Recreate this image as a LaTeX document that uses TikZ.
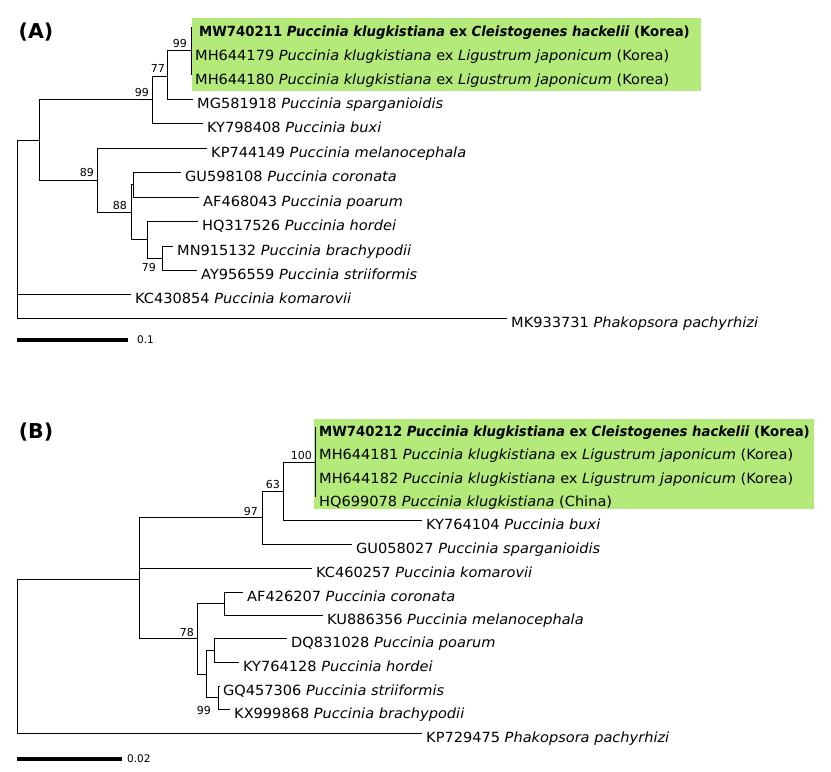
\documentclass[tikz,border=0pt]{standalone}
\usepackage{fontspec}
\setmainfont{DejaVu Sans}
\newfontfamily\leaffont{DejaVu Sans}[FakeStretch=1.04]
\newfontfamily\leafboldfont{DejaVu Sans}[FakeStretch=0.946]
\definecolor{clade}{RGB}{180,234,122}
\tikzset{
  br/.style={line width=0.9pt, black},
  leaf/.style={anchor=base west, inner sep=0pt, font=\leaffont\fontsize{14}{16}\selectfont},
  boot/.style={anchor=base east, inner sep=0pt, font=\fontsize{11}{13}\selectfont},
  panel/.style={inner sep=0pt, font=\fontsize{20.5}{24}\selectfont\bfseries},
  scalebar/.style={line width=4pt, black},
  scalelab/.style={anchor=west, inner sep=0pt, font=\fontsize{10.5}{12}\selectfont},
  cladebox/.style={fill=clade, draw=none}
}
\newcommand\tipleaf[5]{\coordinate (#1) at (#2,#3); \node[leaf] (#1t) at ([shift={(#4,9)}]#1) {#5};}
\newcommand\boldleaf[1]{{\leafboldfont\bfseries #1}}
\begin{document}
\begin{tikzpicture}[x=1pt,y=-1pt]
\useasboundingbox (0,0) rectangle (831,772);
\fill[cladebox] (192,18) rectangle (701,91);
\fill[cladebox] (314,419) rectangle (814,509);
\node[panel] (pA) at (36,32) {(A)};
\node[panel] (pB) at (36,432) {(B)};
% ---------- Tree A ----------
\coordinate (rA) at (17,140);
\coordinate (a39) at (39,140);
\coordinate (a99) at (152,99);
\coordinate (a77) at (167,76);
\coordinate (a99b) at (191,50);
\coordinate (a89) at (97,180);
\coordinate (a88) at (131,212);
\coordinate (a133) at (133,184);
\coordinate (a147) at (147,239);
\coordinate (a79) at (162,258);
\tipleaf{lMW1}{191}{27}{8}{\boldleaf{MW740211 \textit{Puccinia klugkistiana} ex \textit{Cleistogenes hackelii} (Korea)}}
\tipleaf{lMH79}{191}{51}{4}{MH644179 \textit{Puccinia klugkistiana} ex \textit{Ligustrum japonicum} (Korea)}
\tipleaf{lMH80}{191}{75}{4}{MH644180 \textit{Puccinia klugkistiana} ex \textit{Ligustrum japonicum} (Korea)}
\tipleaf{lMG}{193}{99}{4}{MG581918 \textit{Puccinia sparganioidis}}
\tipleaf{lKYa}{203}{123}{4}{KY798408 \textit{Puccinia buxi}}
\tipleaf{lKP}{207}{148}{4}{KP744149 \textit{Puccinia melanocephala}}
\tipleaf{lGU}{181}{172}{4}{GU598108 \textit{Puccinia coronata}}
\tipleaf{lAF}{199}{197}{4}{AF468043 \textit{Puccinia poarum}}
\tipleaf{lHQ}{198}{221}{4}{HQ317526 \textit{Puccinia hordei}}
\tipleaf{lMN}{173}{246}{4}{MN915132 \textit{Puccinia brachypodii}}
\tipleaf{lAY}{197}{270}{4}{AY956559 \textit{Puccinia striiformis}}
\tipleaf{lKCa}{131}{294}{4}{KC430854 \textit{Puccinia komarovii}}
\tipleaf{lMK}{507}{318}{4}{MK933731 \textit{Phakopsora pachyrhizi}}
\draw[br] (rA) |- (a39) (rA) |- (lKCa) (rA) |- (lMK);
\draw[br] (a39) |- (a99) (a39) |- (a89);
\draw[br] (a99) |- (a77) (a99) |- (lKYa);
\draw[br] (a77) |- (a99b) (a77) |- (lMG);
\draw[br] (a99b) |- (lMW1) (a99b) |- (lMH79) (a99b) |- (lMH80);
\draw[br] (a89) |- (lKP) (a89) |- (a88);
\draw[br] (a88) |- (a133) (a88) |- (a147);
\draw[br] (a133) |- (lGU) (a133) |- (lAF);
\draw[br] (a147) |- (lHQ) (a147) |- (a79);
\draw[br] (a79) |- (lMN) (a79) |- (lAY);
\node[boot] (bA1) at ([shift={(-3,-3)}]a99) {99};
\node[boot] (bA2) at ([shift={(-2,-4)}]a77) {77};
\node[boot] (bA3) at ([shift={(-4,-3)}]a99b) {99};
\node[boot] (bA4) at ([shift={(-3,-4)}]a89) {89};
\node[boot] (bA5) at ([shift={(-4,-3)}]a88) {88};
\node[boot] (bA6) at ([shift={(-6,13)}]a79) {79};
\coordinate (sA1) at (17,340);
\coordinate (sA2) at (128,340);
\draw[scalebar] (sA1) -- (sA2);
\node[scalelab] (sAl) at ([shift={(9,0)}]sA2) {0.1};
% ---------- Tree B ----------
\coordinate (rB) at (17,579);
\coordinate (b139) at (139,579);
\coordinate (b97) at (262,517);
\coordinate (b63) at (283,491);
\coordinate (b100) at (315,462);
\coordinate (b78) at (197,638);
\coordinate (b224) at (224,603);
\coordinate (b206) at (206,674);
\coordinate (b214) at (214,650);
\coordinate (b99) at (218,697);
\tipleaf{lMW2}{315}{427}{4}{\boldleaf{MW740212 \textit{Puccinia klugkistiana} ex \textit{Cleistogenes hackelii} (Korea)}}
\tipleaf{lMH81}{315}{450}{4}{MH644181 \textit{Puccinia klugkistiana} ex \textit{Ligustrum japonicum} (Korea)}
\tipleaf{lMH82}{315}{474}{4}{MH644182 \textit{Puccinia klugkistiana} ex \textit{Ligustrum japonicum} (Korea)}
\tipleaf{lHQb}{315}{497}{4}{HQ699078 \textit{Puccinia klugkistiana} (China)}
\tipleaf{lKYb}{422}{520}{4}{KY764104 \textit{Puccinia buxi}}
\tipleaf{lGUb}{352}{544}{4}{GU058027 \textit{Puccinia sparganioidis}}
\tipleaf{lKCb}{312}{568}{4}{KC460257 \textit{Puccinia komarovii}}
\tipleaf{lAFb}{243}{592}{4}{AF426207 \textit{Puccinia coronata}}
\tipleaf{lKU}{323}{615}{4}{KU886356 \textit{Puccinia melanocephala}}
\tipleaf{lDQ}{287}{638}{4}{DQ831028 \textit{Puccinia poarum}}
\tipleaf{lKYc}{239}{662}{4}{KY764128 \textit{Puccinia hordei}}
\tipleaf{lGQ}{220}{686}{3}{GQ457306 \textit{Puccinia striiformis}}
\tipleaf{lKX}{230}{709}{4}{KX999868 \textit{Puccinia brachypodii}}
\tipleaf{lKPb}{422}{733}{4}{KP729475 \textit{Phakopsora pachyrhizi}}
\draw[br] (rB) |- (b139) (rB) |- (lKPb);
\draw[br] (b139) |- (b97) (b139) |- (lKCb) (b139) |- (b78);
\draw[br] (b97) |- (b63) (b97) |- (lGUb);
\draw[br] (b63) |- (b100) (b63) |- (lKYb);
\draw[br] (b100) |- (lMW2) (b100) |- (lMH81) (b100) |- (lMH82) (b100) |- (lHQb);
\draw[br] (b78) |- (b224) (b78) |- (b206);
\draw[br] (b224) |- (lAFb) (b224) |- (lKU);
\draw[br] (b206) |- (b214) (b206) |- (b99);
\draw[br] (b214) |- (lDQ) (b214) |- (lKYc);
\draw[br] (b99) |- (lGQ) (b99) |- (lKX);
\node[boot] (bB1) at ([shift={(-3,-3)}]b100) {100};
\node[boot] (bB2) at ([shift={(-3,-3)}]b63) {63};
\node[boot] (bB3) at ([shift={(-4,-2)}]b97) {97};
\node[boot] (bB4) at ([shift={(-3,-2)}]b78) {78};
\node[boot] (bB5) at ([shift={(-7,17)}]b99) {99};
\coordinate (sB1) at (17,759);
\coordinate (sB2) at (122,759);
\draw[scalebar] (sB1) -- (sB2);
\node[scalelab] (sBl) at ([shift={(5,0)}]sB2) {0.02};
\end{tikzpicture}
\end{document}
